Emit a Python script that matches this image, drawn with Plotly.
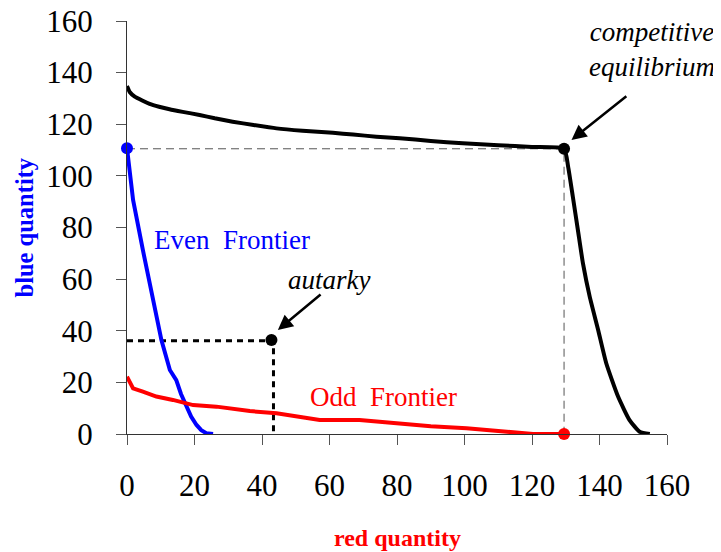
import plotly.graph_objects as go

# competitive frontier (black)
comp_x = [0, 0.8, 2.3, 4.5, 6.7, 9.5, 12.6, 16.5, 21.5, 26, 31.3, 37.5, 44.3, 52, 61, 67, 73.9, 80.8, 90, 99.5,
          110, 120, 129.5, 130.7, 132.1, 133.6, 135.1, 137.1, 139.6, 142, 145.5, 148.9, 151.9, 154.9]
comp_y = [134.8, 132.5, 130.7, 129.2, 127.9, 126.8, 125.8, 124.8, 123.6, 122.3, 121, 119.7, 118.4, 117.5, 116.7, 116, 115.2, 114.6, 113.5, 112.6,
          111.9, 111.2, 110.5, 103.6, 91.9, 79, 66.1, 53.2, 40.3, 27.4, 14.5, 5.4, 0.9, 0]

# even frontier (blue)
even_x = [0, 1.8, 4.7, 7.7, 10.2, 12.7, 14.6, 16, 17.6, 19, 20.6, 22, 23.5, 25.5]
even_y = [110.7, 90.7, 71.3, 51.9, 36.4, 24.8, 20.9, 15.5, 10.6, 6.8, 3.5, 1.5, 0.3, 0]

# odd frontier (red)
odd_x = [0, 1.8, 4.7, 8.7, 13.6, 19.6, 26.5, 36.4, 44.3, 57.1, 68.9, 80.8, 90, 100.6, 110, 120.3, 129.5]
odd_y = [22.2, 17.7, 16.4, 14.5, 13.2, 11.2, 10.6, 8.9, 8.0, 5.4, 5.4, 3.9, 3.0, 2.2, 1.1, 0, 0]

# points
eq_x, eq_y = 129.5, 110.5
aut_x, aut_y = 42.8, 36.4
even_max = 110.7

serif = "Liberation Serif"

fig = go.Figure()

# dashed guide lines for competitive equilibrium
fig.add_trace(go.Scatter(x=[0, eq_x, eq_x], y=[eq_y, eq_y, 0], mode="lines",
                         line=dict(color="#555555", width=1, dash="8px,5px"),
                         hoverinfo="skip", cliponaxis=False))
# dotted guide lines for autarky
fig.add_trace(go.Scatter(x=[0, aut_x + 0.6, aut_x + 0.6], y=[aut_y - 0.3, aut_y - 0.3, 0], mode="lines",
                         line=dict(color="black", width=3, dash="6px,5px"),
                         hoverinfo="skip", cliponaxis=False))

fig.add_trace(go.Scatter(x=comp_x, y=comp_y, mode="lines", line=dict(color="black", width=4, shape="spline", smoothing=0.5),
                         cliponaxis=False))
fig.add_trace(go.Scatter(x=even_x, y=even_y, mode="lines", line=dict(color="#0000FF", width=4),
                         cliponaxis=False))
fig.add_trace(go.Scatter(x=odd_x, y=odd_y, mode="lines", line=dict(color="#FF0000", width=4),
                         cliponaxis=False))

# dots
fig.add_trace(go.Scatter(x=[eq_x, aut_x], y=[eq_y, aut_y], mode="markers",
                         marker=dict(color="black", size=12), cliponaxis=False))
fig.add_trace(go.Scatter(x=[0], y=[even_max], mode="markers",
                         marker=dict(color="#0000FF", size=12), cliponaxis=False))
fig.add_trace(go.Scatter(x=[eq_x], y=[0], mode="markers",
                         marker=dict(color="#FF0000", size=12), cliponaxis=False))

ann_font = dict(family=serif, size=27, color="black")
fig.add_annotation(x=155.5, y=148.8, text="<i>competitive<br>equilibrium</i>", showarrow=False,
                   font=ann_font, xanchor="center", yanchor="middle")
fig.add_annotation(x=131.7, y=113.9, ax=148.4, ay=131.3, axref="x", ayref="y", text="",
                   showarrow=True, arrowhead=2, arrowsize=1.2, arrowwidth=2.5, arrowcolor="black")
fig.add_annotation(x=59.8, y=59.7, text="<i>autarky</i>", showarrow=False, font=ann_font,
                   xanchor="center", yanchor="middle")
fig.add_annotation(x=44.7, y=40.3, ax=57.8, ay=54.5, axref="x", ayref="y", text="",
                   showarrow=True, arrowhead=2, arrowsize=1.2, arrowwidth=2.5, arrowcolor="black")
fig.add_annotation(x=7.5, y=75.2, text="Even&nbsp; Frontier", showarrow=False,
                   font=dict(family=serif, size=27, color="#0000FF"), xanchor="left", yanchor="middle")
fig.add_annotation(x=53.6, y=14.5, text="Odd&nbsp; Frontier", showarrow=False,
                   font=dict(family=serif, size=27, color="#FF0000"), xanchor="left", yanchor="middle")

# axis titles
fig.add_annotation(x=0.5, y=-0.252, xref="paper", yref="paper", text="<b>red quantity</b>", showarrow=False,
                   font=dict(family=serif, size=24, color="#FF0000"), yanchor="middle")
fig.add_annotation(x=-0.189, y=0.5, xref="paper", yref="paper", text="<b>blue quantity</b>", showarrow=False,
                   textangle=-90, font=dict(family=serif, size=24.5, color="#0000FF"), xanchor="center")

axis_common = dict(range=[0, 160], dtick=20, showgrid=False, zeroline=False, showline=True, automargin=False,
                   linecolor="#333333", linewidth=1, ticks="outside", ticklen=10, tickcolor="#555555",
                   ticklabeloverflow="allow",
                   tickfont=dict(family=serif, size=31, color="black"))
fig.update_xaxes(**axis_common, ticklabelstandoff=14)
fig.update_yaxes(**axis_common, ticklabelstandoff=17)

# page body has an 8px margin, so the figure is 8px smaller than the window
fig.update_layout(width=713, height=544, showlegend=False, plot_bgcolor="white", paper_bgcolor="white",
                  font=dict(family=serif),
                  margin=dict(l=119, r=54, t=13, b=118))

fig.write_html("out.html")
